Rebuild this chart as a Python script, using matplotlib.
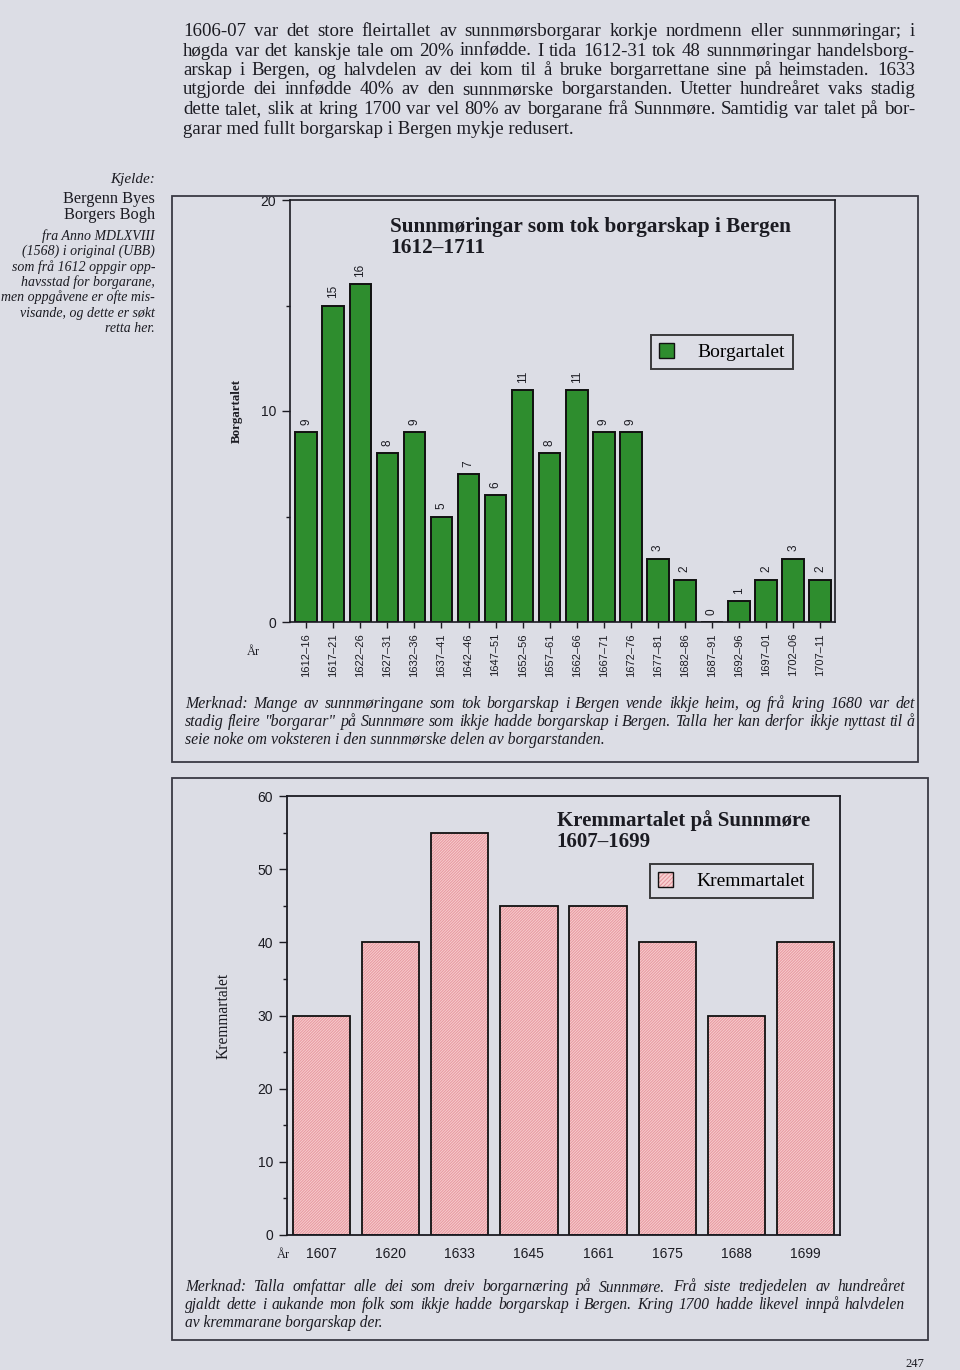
import matplotlib
matplotlib.use("Agg")
import matplotlib.pyplot as plt
from matplotlib.patches import Rectangle, Patch
from matplotlib.ticker import MultipleLocator

# ---------------- data ----------------
periods1 = ["1612–16", "1617–21", "1622–26", "1627–31", "1632–36", "1637–41",
            "1642–46", "1647–51", "1652–56", "1657–61", "1662–66", "1667–71",
            "1672–76", "1677–81", "1682–86", "1687–91", "1692–96", "1697–01",
            "1702–06", "1707–11"]
borgartalet = [9, 15, 16, 8, 9, 5, 7, 6, 11, 8, 11, 9, 9, 3, 2, 0, 1, 2, 3, 2]

years2 = ["1607", "1620", "1633", "1645", "1661", "1675", "1688", "1699"]
kremmartalet = [30, 40, 55, 45, 45, 40, 30, 40]

title1 = "Sunnmøringar som tok borgarskap i Bergen\n1612–1711"
title2 = "Kremmartalet på Sunnmøre\n1607–1699"

paragraph = [
    "1606-07 var det store fleirtallet av sunnmørsborgarar korkje nordmenn eller sunnmøringar; i",
    "høgda var det kanskje tale om 20% innfødde. I tida 1612-31 tok 48 sunnmøringar handelsborg-",
    "arskap i Bergen, og halvdelen av dei kom til å bruke borgarrettane sine på heimstaden. 1633",
    "utgjorde dei innfødde 40% av den sunnmørske borgarstanden. Utetter hundreåret vaks stadig",
    "dette talet, slik at kring 1700 var vel 80% av borgarane frå Sunnmøre. Samtidig var talet på bor-",
    "garar med fullt borgarskap i Bergen mykje redusert.",
]
side_head = ["Bergenn Byes", "Borgers Bogh"]
side_italic = ["fra Anno MDLXVIII", "(1568) i original (UBB)", "som frå 1612 oppgir opp-",
               "havsstad for borgarane,", "men oppgåvene er ofte mis-",
               "visande, og dette er søkt", "retta her."]
note1 = ["Merknad: Mange av sunnmøringane som tok borgarskap i Bergen vende ikkje heim, og frå kring 1680 var det",
         "stadig fleire \"borgarar\" på Sunnmøre som ikkje hadde borgarskap i Bergen. Talla her kan derfor ikkje nyttast til å",
         "seie noke om voksteren i den sunnmørske delen av borgarstanden."]
note2 = ["Merknad: Talla omfattar alle dei som dreiv borgarnæring på Sunnmøre. Frå siste tredjedelen av hundreåret",
         "gjaldt dette i aukande mon folk som ikkje hadde borgarskap i Bergen. Kring 1700 hadde likevel innpå halvdelen",
         "av kremmarane borgarskap der."]

# ---------------- style ----------------
BG = "#dcdde5"
INK = "#1b1b22"
GREEN = "#2e8d2e"
PINK = "#f8d2d2"
HATCH = "#e89aa2"
SERIF = ["Liberation Serif", "DejaVu Serif"]
SANS = ["Liberation Sans", "DejaVu Sans"]

W, H = 960, 1370
plt.rcParams["hatch.linewidth"] = 0.8
fig = plt.figure(figsize=(W / 100, H / 100), dpi=100, facecolor=BG)


def fx(x):
    return x / W


def fy(y):
    return 1 - y / H


renderer = fig.canvas.get_renderer()


def justified(lines, x0, x1, y0, dy, size, style="normal", last_justify=False):
    for i, line in enumerate(lines):
        y = fy(y0 + i * dy)
        if i == len(lines) - 1 and not last_justify:
            fig.text(fx(x0), y, line, family=SERIF, size=size, style=style,
                     color=INK, va="baseline")
            continue
        words = line.split(" ")
        widths = []
        for w in words:
            t = fig.text(0, 0, w, family=SERIF, size=size, style=style)
            bb = t.get_window_extent(renderer)
            widths.append(bb.width)
            t.remove()
        total = sum(widths)
        gap = (x1 - x0 - total) / max(len(words) - 1, 1)
        x = x0
        for w, wd in zip(words, widths):
            fig.text(fx(x), y, w, family=SERIF, size=size, style=style,
                     color=INK, va="baseline")
            x += wd + gap


# top paragraph
justified(paragraph, 183, 915, 36, 19.5, 13.6)

# side note
fig.text(fx(155), fy(183), "Kjelde:", family=SERIF, style="italic", size=11,
         ha="right", va="baseline", color=INK)
for i, s in enumerate(side_head):
    fig.text(fx(155), fy(203 + i * 16), s, family=SERIF, size=11.8,
             ha="right", va="baseline", color=INK)
for i, s in enumerate(side_italic):
    fig.text(fx(155), fy(240 + i * 15.3), s, family=SERIF, style="italic", size=10.0,
             ha="right", va="baseline", color=INK)

# frames
fig.patches.append(Rectangle((fx(172), fy(762)), fx(918) - fx(172), fy(196) - fy(762),
                             transform=fig.transFigure, fill=False, ec="#3a3a44", lw=1.3))
fig.patches.append(Rectangle((fx(172), fy(1340)), fx(928) - fx(172), fy(778) - fy(1340),
                             transform=fig.transFigure, fill=False, ec="#3a3a44", lw=1.3))

# ---------------- chart 1 ----------------
ax1 = fig.add_axes([fx(290), fy(622), fx(835) - fx(290), fy(200) - fy(622)])
ax1.set_facecolor("none")
x1 = list(range(len(borgartalet)))
ax1.bar(x1, borgartalet, width=0.8, color=GREEN, edgecolor="#111111", linewidth=1.4)
for xi, v in zip(x1, borgartalet):
    ax1.text(xi, v + 0.35, str(v), rotation=90, ha="center", va="bottom",
             family=SANS, size=8.5, color=INK)
ax1.set_xlim(-0.6, len(borgartalet) - 0.45)
ax1.set_ylim(0, 20)
ax1.yaxis.set_major_locator(MultipleLocator(10))
ax1.yaxis.set_minor_locator(MultipleLocator(5))
ax1.set_xticks(x1)
ax1.set_xticklabels(periods1, rotation=90, family=SANS, size=8, color=INK)
ax1.tick_params(axis="x", length=4, width=1.0, color=INK, pad=4)
ax1.tick_params(axis="y", which="major", length=6, width=1.0, color=INK, pad=4,
                labelsize=10)
ax1.tick_params(axis="y", which="minor", length=3, width=1.0, color=INK)
for lab in ax1.get_yticklabels():
    lab.set_family(SANS)
    lab.set_color(INK)
for s in ax1.spines.values():
    s.set_color(INK)
    s.set_linewidth(1.2)
ax1.set_ylabel("Borgartalet", family=SERIF, weight="bold", size=9.3, color=INK,
               labelpad=13)
ax1.text(0.184, 0.96, title1, transform=ax1.transAxes, family=SERIF, weight="bold",
         size=15.3, color=INK, va="top", ha="left", linespacing=1.05)
leg1 = ax1.legend(handles=[Patch(facecolor=GREEN, edgecolor="#111111", lw=1.0,
                                 label="Borgartalet")],
                  loc="upper left", bbox_to_anchor=(0.662, 0.68), frameon=True,
                  fancybox=False, prop={"family": SERIF, "size": 14},
                  handlelength=0.8, handleheight=0.8, borderpad=0.4,
                  handletextpad=1.2, borderaxespad=0)
leg1.get_frame().set_edgecolor("#111111")
leg1.get_frame().set_linewidth(1.4)
leg1.get_frame().set_facecolor("none")
fig.text(fx(253), fy(655), "År", family=SERIF, size=9, color=INK, ha="center")

justified(note1, 185, 915, 708, 18, 11.4, style="italic")

# ---------------- chart 2 ----------------
ax2 = fig.add_axes([fx(287), fy(1235), fx(840) - fx(287), fy(796) - fy(1235)])
ax2.set_facecolor("none")
x2 = list(range(len(kremmartalet)))
# hatched fill (hatch drawn in edge colour), then black outline on top
ax2.bar(x2, kremmartalet, width=0.83, color=PINK, edgecolor=HATCH,
        linewidth=0, hatch="/" * 12)
ax2.bar(x2, kremmartalet, width=0.83, fill=False, edgecolor="#111111",
        linewidth=1.3)
ax2.set_xlim(-0.5, len(kremmartalet) - 0.5)
ax2.set_ylim(0, 60)
ax2.yaxis.set_major_locator(MultipleLocator(10))
ax2.yaxis.set_minor_locator(MultipleLocator(5))
ax2.set_xticks(x2)
ax2.set_xticklabels(years2, family=SANS, size=10, color=INK)
ax2.tick_params(axis="x", length=0, pad=9)
ax2.tick_params(axis="y", which="major", length=6, width=1.0, color=INK, pad=4,
                labelsize=10)
ax2.tick_params(axis="y", which="minor", length=3, width=1.0, color=INK)
for lab in ax2.get_yticklabels():
    lab.set_family(SANS)
    lab.set_color(INK)
for s in ax2.spines.values():
    s.set_color(INK)
    s.set_linewidth(1.3)
ax2.set_ylabel("Kremmartalet", family=SERIF, size=11.2, color=INK, labelpad=19)
ax2.text(0.488, 0.968, title2, transform=ax2.transAxes, family=SERIF, weight="bold",
         size=15, color=INK, va="top", ha="left", linespacing=1.05)
h_fill = Patch(facecolor=PINK, edgecolor=HATCH, lw=0, hatch="/" * 8)
h_edge = Patch(fill=False, edgecolor="#111111", lw=1.0)
leg2 = ax2.legend(handles=[(h_fill, h_edge)], labels=["Kremmartalet"],
                  loc="upper left", bbox_to_anchor=(0.656, 0.845), frameon=True,
                  fancybox=False, prop={"family": SERIF, "size": 14},
                  handlelength=0.8, handleheight=0.8, borderpad=0.4,
                  handletextpad=1.2, borderaxespad=0)
leg2.get_frame().set_edgecolor("#111111")
leg2.get_frame().set_linewidth(1.4)
leg2.get_frame().set_facecolor("none")
fig.text(fx(283), fy(1258), "År", family=SERIF, size=9, color=INK, ha="center")

justified(note2, 185, 905, 1291, 18, 11.2, style="italic")

fig.text(fx(905), fy(1367), "247", family=SERIF, size=9, color=INK, va="baseline")

fig.savefig("out.png", dpi=100, facecolor=BG)
